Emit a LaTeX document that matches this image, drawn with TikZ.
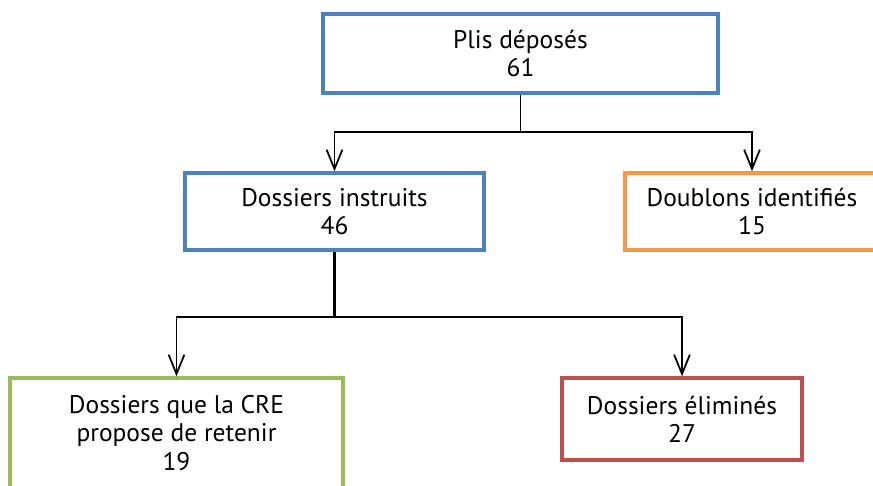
\documentclass[tikz,border=0pt]{standalone}
\usepackage{fontspec}
\setmainfont{PT Sans}
\usetikzlibrary{arrows.meta,positioning,calc}

\definecolor{BoxBlue}{HTML}{4F81BD}
\definecolor{BoxOrange}{HTML}{F79646}
\definecolor{BoxGreen}{HTML}{9BBB59}
\definecolor{BoxRed}{HTML}{C0504D}

\tikzset{
  BoxStyle/.style = {draw, line width=2pt, fill=white, align=center,
                     font=\fontsize{14.5}{16}\selectfont, inner sep=0pt},
  EdgeStyle/.style = {line width=1pt, -{Straight Barb[length=11pt,width=9pt,line width=1pt]}}
}

\begin{document}
\begin{tikzpicture}[x=0.02cm,y=-0.02cm]
	\useasboundingbox (0,0) rectangle (873,485);
	% boxes
	\node[BoxStyle,draw=BoxBlue,minimum width=7.9cm,minimum height=1.58cm] (depot) at (520.5,53.5) {Plis déposés\\61};
	\node[BoxStyle,draw=BoxBlue,minimum width=5.98cm,minimum height=1.54cm] (instruits) at (334.5,211.5) {Dossiers instruits\\46};
	\node[BoxStyle,draw=BoxOrange,minimum width=5.08cm,minimum height=1.54cm] (doublons) at (752,211.5) {Doublons identifiés\\15};
	\node[BoxStyle,draw=BoxGreen,minimum width=6.66cm,minimum height=2.2cm] (retenir) at (176.5,433) {Dossiers que la CRE\\propose de retenir\\19};
	\node[BoxStyle,draw=BoxRed,minimum width=4.8cm,minimum height=1.64cm] (elimines) at (682,419) {Dossiers éliminés\\27};
	% connectors
	\draw[EdgeStyle] (depot.south) -- ++(0,37) -| (instruits.north);
	\draw[EdgeStyle] (depot.south) -- ++(0,37) -| (doublons.north);
	\draw[line width=1.6pt] (instruits.south) -- ++(0,65);
	\draw[EdgeStyle] (instruits.south) ++(0,65) -| (retenir.north);
	\draw[EdgeStyle] (instruits.south) ++(0,65) -| (elimines.north);
\end{tikzpicture}
\end{document}
